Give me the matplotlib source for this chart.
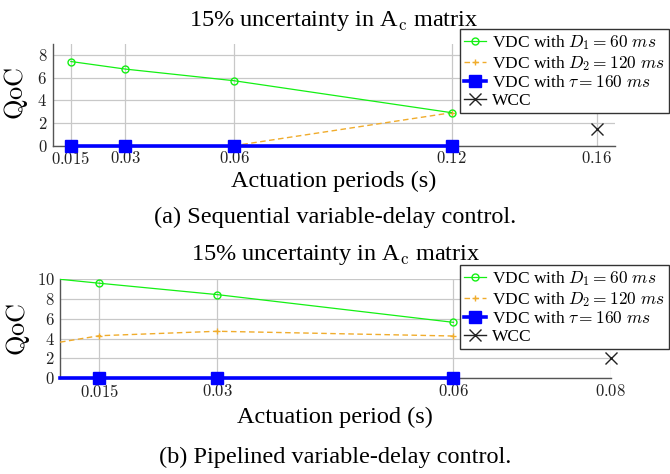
import matplotlib
matplotlib.use("Agg")
import matplotlib.pyplot as plt

plt.rcParams['font.family'] = ['Liberation Serif', 'DejaVu Serif']
plt.rcParams['mathtext.fontset'] = 'cm'

# ---- data: (a) sequential ----
xa = [0.015, 0.03, 0.06, 0.12]
a_d1 = [7.45, 6.78, 5.75, 2.92]
a_d2 = [0.0, 0.0, 0.0, 2.92]
a_tau = [0.0, 0.0, 0.0, 0.0]
a_wcc_x = [0.16]
a_wcc = [1.5]
a_ticks = [0.015, 0.03, 0.06, 0.12, 0.16]
a_ticklabels = ['0.015', '0.03', '0.06', '0.12', '0.16']

# ---- data: (b) pipelined ----
xb = [0.01, 0.015, 0.03, 0.06]
b_d1 = [10.0, 9.6, 8.45, 5.65]
b_d2 = [3.65, 4.3, 4.75, 4.27]
b_tau = [0.0, 0.0, 0.0, 0.0]
b_wcc_x = [0.08]
b_wcc = [2.1]
b_ticks = [0.015, 0.03, 0.06, 0.08]
b_ticklabels = ['0.015', '0.03', '0.06', '0.08']

labels = [r'VDC with $D_1 = 60\ ms$', r'VDC with $D_2 = 120\ ms$',
          r'VDC with $\tau = 160\ ms$', 'WCC']

GREEN = '#14f014'
ORANGE = '#f0ac2c'
BLUE = '#0000ff'
BIG = 17.5

fig = plt.figure(figsize=(6.7, 4.74), dpi=100)

def draw(ax, x, d1, d2, tau, wx, wy, ticks, ticklabels, yticks, markidx):
    h1, = ax.plot(x, d1, color=GREEN, lw=0.9, marker='o', ms=5, mfc='none',
                  mec=GREEN, mew=1.0, markevery=markidx, zorder=4)
    h2, = ax.plot(x, d2, color=ORANGE, lw=1.0, ls=(0, (4, 2.5)), marker='+', ms=5,
                  mew=1.0, markevery=markidx, zorder=3)
    h3, = ax.plot(x, tau, color=BLUE, lw=2.6, marker='s', ms=8, markevery=markidx,
                  zorder=5, clip_on=False)
    h4, = ax.plot(wx, wy, color='#222222', lw=1.0, marker='x', ms=8, mew=1.0,
                  ls='-', zorder=4, clip_on=False)
    ax.set_xticks(ticks)
    ax.set_xticklabels(['$%s$' % t for t in ticklabels])
    ax.set_yticks(yticks)
    ax.set_yticklabels(['$%d$' % t for t in yticks])
    ax.grid(True, color='#c8c8c8', lw=0.9)
    ax.set_axisbelow(True)
    for s in ['top', 'right']:
        ax.spines[s].set_visible(False)
    for s in ['left', 'bottom']:
        ax.spines[s].set_color('#555555')
        ax.spines[s].set_linewidth(1.0)
    ax.tick_params(length=0, labelsize=12, pad=4, colors='#222222')
    return [h1, h2, h3, h4]

axa = fig.add_axes([0.0787, 0.6926, 0.839, 0.2146])
ha = draw(axa, xa, a_d1, a_d2, a_tau, a_wcc_x, a_wcc, a_ticks, a_ticklabels,
          [0, 2, 4, 6, 8], [0, 1, 2, 3])
axa.set_xlim(0.01, 0.165)
axa.set_ylim(0, 9)
axa.set_title(r'15% uncertainty in A$_\mathrm{c}$ matrix', fontsize=BIG, pad=13)
axa.set_xlabel('Actuation periods (s)', fontsize=BIG, labelpad=2)
axa.set_ylabel(r'$\mathrm{QoC}$', fontsize=19, va='center')
axa.yaxis.set_label_coords((16 - 52.7) / 562.3, (145.7 - 93) / 101.7)
fig.text(0.5, 1 - 217 / 474, '(a) Sequential variable-delay control.',
         ha='center', va='center', fontsize=BIG)

axb = fig.add_axes([0.0896, 0.2019, 0.822, 0.2089])
hb = draw(axb, xb, b_d1, b_d2, b_tau, b_wcc_x, b_wcc, b_ticks, b_ticklabels,
          [0, 2, 4, 6, 8, 10], [1, 2, 3])
axb.set_xlim(0.01, 0.08)
axb.set_ylim(0, 10)
axb.set_title(r'15% uncertainty in A$_\mathrm{c}$ matrix', fontsize=BIG, pad=14)
axb.set_xlabel('Actuation period (s)', fontsize=BIG, labelpad=4)
axb.set_ylabel(r'$\mathrm{QoC}$', fontsize=19, va='center')
axb.yaxis.set_label_coords((18 - 60) / 551, (378.3 - 329) / 99)
fig.text(0.5, 1 - 457 / 474, '(b) Pipelined variable-delay control.',
         ha='center', va='center', fontsize=BIG)

for hs, ty in [(ha, 29), (hb, 265)]:
    leg = fig.legend(hs, labels, loc='upper right',
                     bbox_to_anchor=(669 / 670, 1 - ty / 474),
                     fontsize=12.5, frameon=True, fancybox=False, framealpha=1,
                     edgecolor='#333333', borderpad=0.25, labelspacing=0.1,
                     handlelength=1.3, handletextpad=0.3, borderaxespad=0)
    leg.get_frame().set_linewidth(1.0)

fig.savefig('out.png', dpi=100)
